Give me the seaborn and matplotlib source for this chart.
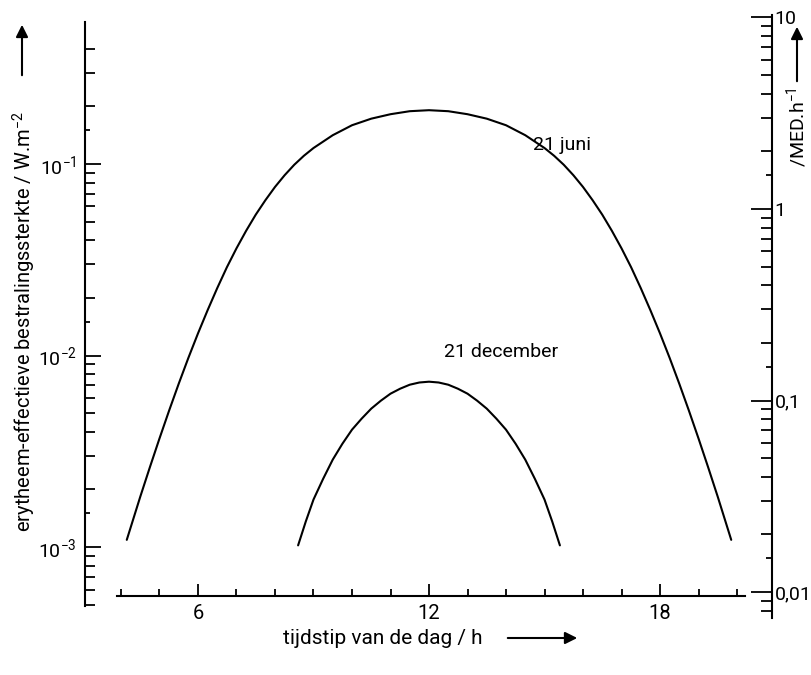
import numpy as np
import pandas as pd
import matplotlib
matplotlib.use("Agg")
import matplotlib.pyplot as plt
import seaborn as sns
from matplotlib.ticker import FixedLocator, FixedFormatter, NullFormatter
from matplotlib.patches import FancyArrowPatch

# --- data -----------------------------------------------------------------
june_hours = [4.15, 4.5, 4.75, 5.0, 5.25, 5.5, 5.75, 6.0, 6.25, 6.5, 6.75,
              7.0, 7.25, 7.5, 7.75, 8.0, 8.25, 8.5, 8.75, 9.0, 9.5, 10.0,
              10.5, 11.0, 11.5, 12.0, 12.5, 13.0, 13.5, 14.0, 14.5, 15.0,
              15.25, 15.5, 15.75, 16.0, 16.25, 16.5, 16.75, 17.0, 17.25,
              17.5, 17.75, 18.0, 18.25, 18.5, 18.75, 19.0, 19.25, 19.5, 19.85]
june_values = [1.09e-3, 1.83e-3, 2.61e-3, 3.69e-3, 5.16e-3, 7.13e-3, 9.72e-3,
               1.305e-2, 1.725e-2, 2.25e-2, 2.89e-2, 3.63e-2, 4.48e-2, 5.44e-2,
               6.47e-2, 7.59e-2, 8.74e-2, 9.91e-2, 0.1104, 0.1212, 0.1414,
               0.1594, 0.1725, 0.1820, 0.1887, 0.191, 0.1887, 0.1820, 0.1725,
               0.1594, 0.1414, 0.1212, 0.1104, 9.91e-2, 8.74e-2, 7.59e-2,
               6.47e-2, 5.44e-2, 4.48e-2, 3.63e-2, 2.89e-2, 2.25e-2, 1.725e-2,
               1.305e-2, 9.72e-3, 7.13e-3, 5.16e-3, 3.69e-3, 2.61e-3, 1.83e-3,
               1.09e-3]

dec_hours = [8.6, 8.8, 9.0, 9.25, 9.5, 9.75, 10.0, 10.25, 10.5, 10.75, 11.0,
             11.25, 11.5, 11.75, 12.0, 12.25, 12.5, 12.75, 13.0, 13.25, 13.5,
             13.75, 14.0, 14.25, 14.5, 14.75, 15.0, 15.2, 15.4]
dec_values = [1.02e-3, 1.36e-3, 1.77e-3, 2.27e-3, 2.86e-3, 3.46e-3, 4.10e-3,
              4.68e-3, 5.28e-3, 5.81e-3, 6.32e-3, 6.71e-3, 7.04e-3, 7.23e-3,
              7.30e-3, 7.23e-3, 7.04e-3, 6.71e-3, 6.32e-3, 5.81e-3, 5.28e-3,
              4.68e-3, 4.10e-3, 3.46e-3, 2.86e-3, 2.27e-3, 1.77e-3, 1.36e-3,
              1.02e-3]

curve_labels = ["21 juni", "21 december"]

hour_major = [6, 12, 18]
hour_minor = [4, 5, 7, 8, 9, 10, 11, 13, 14, 15, 16, 17, 19, 20]

left_major = [1e-3, 1e-2, 1e-1]
left_major_labels = ["$10^{-3}$", "$10^{-2}$", "$10^{-1}$"]
left_minor = [5e-4, 6e-4, 7e-4, 8e-4, 9e-4,
              2e-3, 3e-3, 4e-3, 5e-3, 6e-3, 7e-3, 8e-3, 9e-3,
              2e-2, 3e-2, 4e-2, 5e-2, 6e-2, 7e-2, 8e-2, 9e-2,
              2e-1, 3e-1, 4e-1]
left_half = [1.5e-3, 1.5e-2, 1.5e-1]

right_major = [0.01, 0.1, 1, 10]
right_major_labels = ["0,01", "0,1", "1", "10"]
right_minor = [8e-3, 9e-3,
               2e-2, 3e-2, 4e-2, 5e-2, 6e-2, 7e-2, 8e-2, 9e-2,
               0.2, 0.3, 0.4, 0.5, 0.6, 0.7, 0.8, 0.9,
               2, 3, 4, 5, 6, 7, 8, 9]
right_half = [0.015, 0.15, 1.5]

df = pd.concat([
    pd.DataFrame({"uur": june_hours, "E": june_values, "datum": curve_labels[0]}),
    pd.DataFrame({"uur": dec_hours, "E": dec_values, "datum": curve_labels[1]}),
], ignore_index=True)

# --- style ----------------------------------------------------------------
sns.set_style("white")
FONT = "Roboto"
plt.rcParams["font.family"] = [FONT, "DejaVu Sans"]
plt.rcParams["mathtext.fontset"] = "custom"
plt.rcParams["mathtext.rm"] = FONT
plt.rcParams["mathtext.it"] = FONT
plt.rcParams["mathtext.default"] = "regular"
plt.rcParams["text.color"] = "black"

W, H = 811, 675
fig = plt.figure(figsize=(W / 100, H / 100), dpi=100)


def fx(x):
    return x / W


def fy(y):
    return 1 - y / H


ax_top, ax_bot = 12, 655
x_axis_y = 596
ax = fig.add_axes([fx(85), fy(ax_bot), fx(772) - fx(85), fy(ax_top) - fy(ax_bot)])
ax.set_yscale("log")

sns.lineplot(data=df, x="uur", y="E", hue="datum", units="datum",
             estimator=None, palette=["black", "black"], legend=False,
             linewidth=1.5, ax=ax)

ax.set_xlim(3.065, 20.909)
ax.set_ylim(2.73e-4, 0.622)
ax.set_xlabel("")
ax.set_ylabel("")
ax.patch.set_alpha(0)

for s in ["top", "right"]:
    ax.spines[s].set_visible(False)
for s in ["left", "bottom"]:
    ax.spines[s].set_linewidth(1.5)
    ax.spines[s].set_color("black")
ax.spines["left"].set_bounds(4.9e-4, 0.551)
ax.spines["bottom"].set_position(("axes", (ax_bot - x_axis_y) / (ax_bot - ax_top)))
ax.spines["bottom"].set_bounds(3.9, 20.2)

# hour axis
ax.xaxis.set_major_locator(FixedLocator(hour_major))
ax.xaxis.set_major_formatter(FixedFormatter([str(h) for h in hour_major]))
ax.xaxis.set_minor_locator(FixedLocator(hour_minor))
ax.xaxis.set_minor_formatter(NullFormatter())
ax.tick_params(axis="x", which="both", direction="in", color="black",
               width=1.3, labelsize=14.5, pad=6, bottom=True, labelbottom=True,
               labelcolor="black")
ax.tick_params(axis="x", which="major", length=9)
ax.tick_params(axis="x", which="minor", length=5)

# irradiance axis (left)
ax.yaxis.set_major_locator(FixedLocator(left_major))
ax.yaxis.set_major_formatter(FixedFormatter(left_major_labels))
ax.yaxis.set_minor_locator(FixedLocator(left_minor))
ax.yaxis.set_minor_formatter(NullFormatter())
ax.tick_params(axis="y", which="both", direction="in", color="black",
               width=1.3, labelsize=14, pad=6, left=True, labelcolor="black")
ax.tick_params(axis="y", which="major", length=11.5)
ax.tick_params(axis="y", which="minor", length=7)

# short half-decade ticks on the left
ax_h = ax.twinx()
ax_h.set_yscale("log")
ax_h.set_ylim(ax.get_ylim())
for s in ax_h.spines.values():
    s.set_visible(False)
ax_h.yaxis.set_ticks_position("left")
ax_h.yaxis.set_major_locator(FixedLocator(left_half))
ax_h.yaxis.set_major_formatter(NullFormatter())
ax_h.yaxis.set_minor_locator(FixedLocator([]))
ax_h.tick_params(axis="y", which="major", direction="in", length=3.8,
                 width=1.3, color="black")

# MED per hour axis (right)
ax2 = ax.twinx()
ax2.set_yscale("log")
ax2.set_ylim(4.69e-3, 10.68)
for s in ["top", "left", "bottom"]:
    ax2.spines[s].set_visible(False)
ax2.spines["right"].set_linewidth(1.5)
ax2.spines["right"].set_color("black")
ax2.spines["right"].set_bounds(7.3e-3, 10.3)
ax2.yaxis.set_major_locator(FixedLocator(right_major))
ax2.yaxis.set_major_formatter(FixedFormatter(right_major_labels))
ax2.yaxis.set_minor_locator(FixedLocator(right_minor))
ax2.yaxis.set_minor_formatter(NullFormatter())
ax2.tick_params(axis="y", which="both", direction="in", color="black",
                width=1.3, labelsize=14, pad=2, right=True, labelcolor="black")
ax2.tick_params(axis="y", which="major", length=15)
ax2.tick_params(axis="y", which="minor", length=8)

ax2h = ax.twinx()
ax2h.set_yscale("log")
ax2h.set_ylim(ax2.get_ylim())
for s in ax2h.spines.values():
    s.set_visible(False)
ax2h.yaxis.set_major_locator(FixedLocator(right_half))
ax2h.yaxis.set_major_formatter(NullFormatter())
ax2h.yaxis.set_minor_locator(FixedLocator([]))
ax2h.tick_params(axis="y", which="major", direction="in", length=4,
                 width=1.3, color="black")

# curve annotations
ax.text(15.45, 0.126, curve_labels[0], fontsize=14, ha="center", va="center")
ax.text(13.87, 0.0104, curve_labels[1], fontsize=14, ha="center", va="center")

# axis titles with direction arrows
fig.text(fx(24), fy(322), "erytheem-effectieve bestralingssterkte / W.m$^{-2}$",
         rotation=90, ha="center", va="center", fontsize=14.5)
fig.text(fx(797), fy(127), "/MED.h$^{-1}$", rotation=90, ha="center",
         va="center", fontsize=14)
fig.text(fx(283), fy(638), "tijdstip van de dag / h", ha="left",
         va="center", fontsize=15)


def arrow(x0, y0, x1, y1):
    fig.patches.append(FancyArrowPatch((fx(x0), fy(y0)), (fx(x1), fy(y1)),
                                       transform=fig.transFigure,
                                       arrowstyle="-|>", mutation_scale=18,
                                       lw=1.5, color="black"))


arrow(22, 78, 22, 22)
arrow(797, 84, 797, 24)
arrow(505, 638, 580, 638)

fig.savefig("out.png", dpi=100)
